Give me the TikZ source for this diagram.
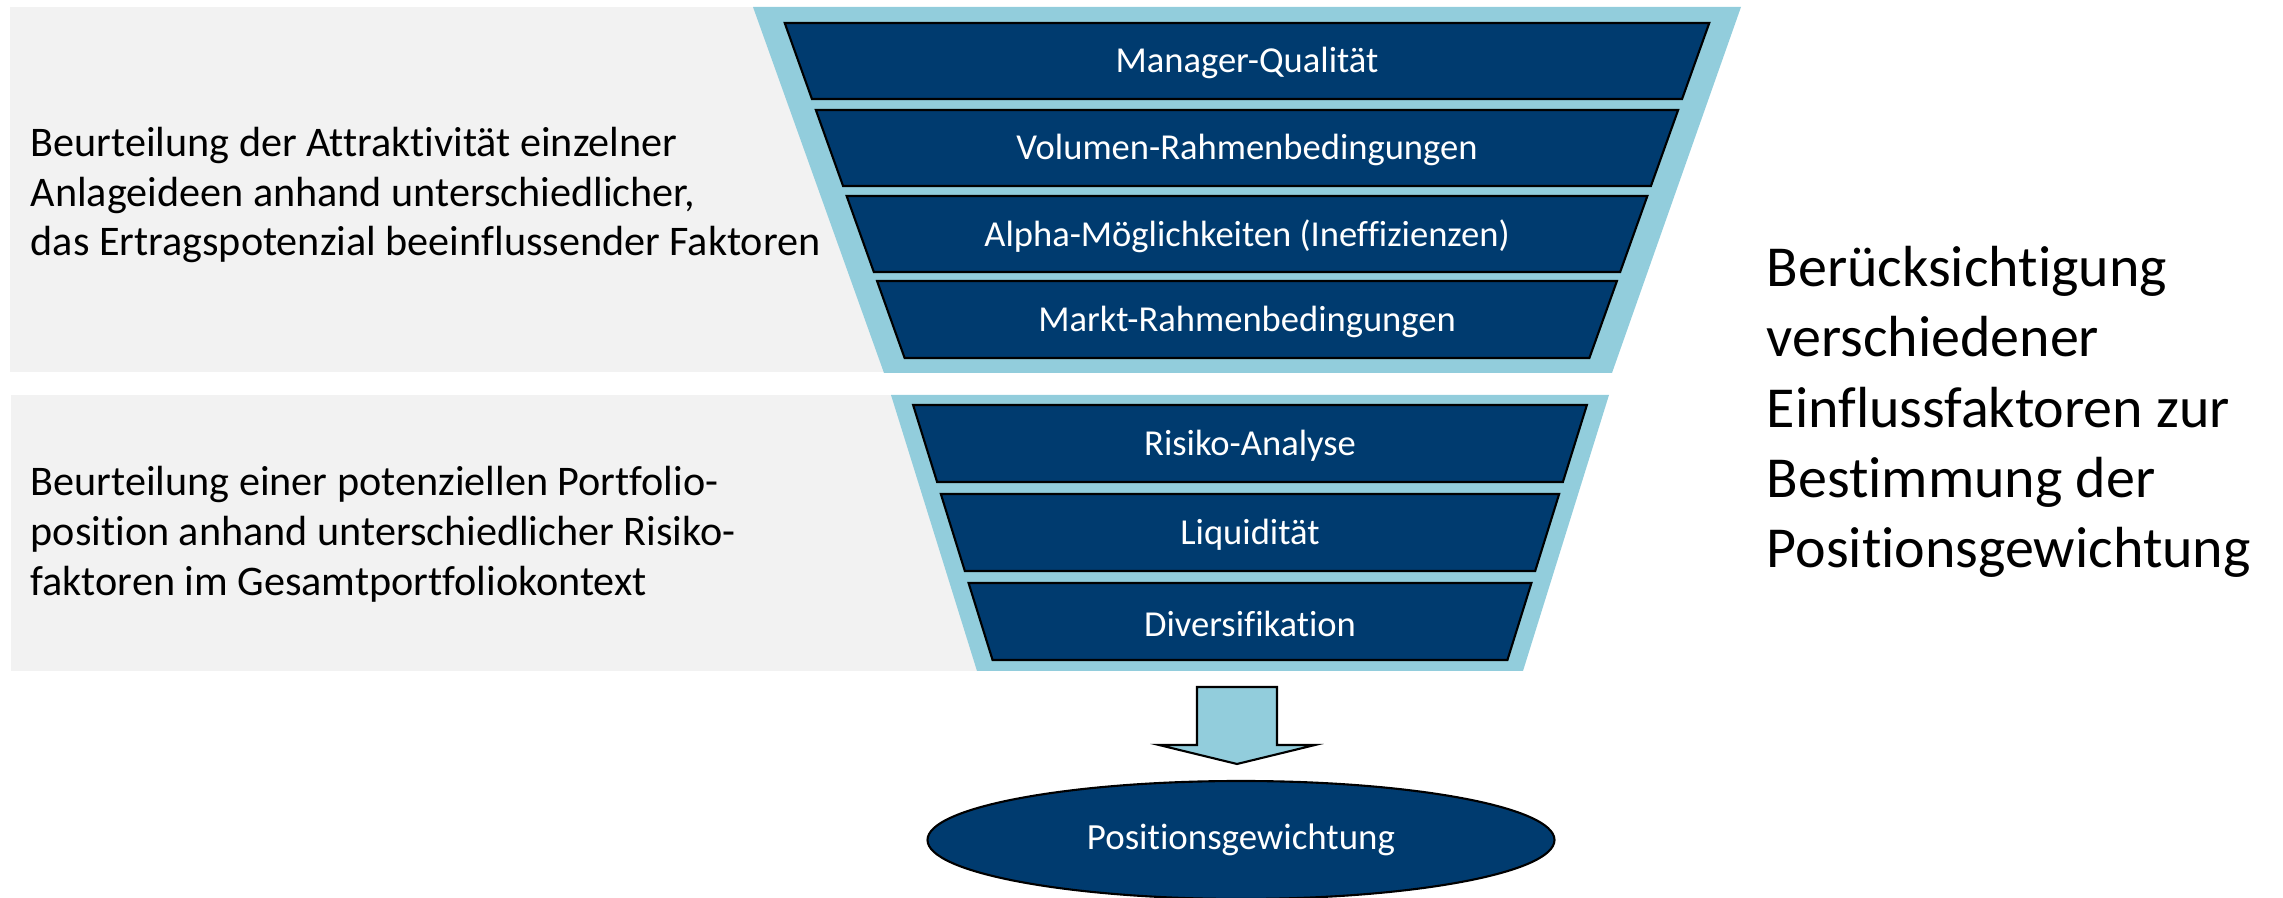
\documentclass[tikz,border=0pt]{standalone}
\usepackage{fontspec}
\setmainfont{Carlito}[Ligatures={TeX,NoCommon}]
\usetikzlibrary{shapes.geometric}

\definecolor{panelgrey}{HTML}{F2F2F2}
\definecolor{funnelblue}{HTML}{92CDDC}
\definecolor{boxnavy}{HTML}{003B6F}

\begin{document}
\begin{tikzpicture}[
    x=0.1mm, y=-0.1mm,
    panel/.style={fill=panelgrey},
    funnel/.style={fill=funnelblue},
    stage/.style={fill=boxnavy, draw=black, line width=0.6pt},
    stagelabel/.style={text=white, inner sep=0pt, font=\fontsize{10.4}{12.5}\selectfont},
    sidetext/.style={align=left, anchor=west, inner sep=0pt, font=\fontsize{12}{14.2}\selectfont},
    bigtext/.style={align=left, anchor=west, inner sep=0pt, font=\fontsize{16.5}{20}\selectfont},
    blockarrow/.style={fill=funnelblue, draw=black, line width=0.6pt, line join=miter},
    goal/.style={ellipse, fill=boxnavy, draw=black, line width=0.6pt, text=white,
        minimum width=62.7mm, minimum height=11.8mm, inner sep=0pt,
        font=\fontsize{10.5}{12.5}\selectfont}
]

    \def\slopeA{0.3579}
    \def\slopeB{0.3116}

    \useasboundingbox (0,0) rectangle (2283,898);

    % grey panels behind the funnels
    \fill[panel] (10,7) rectangle (1150,372);
    \fill[panel] (11,395) rectangle (1150,671);

    % upper funnel
    \coordinate (UA) at (753,7);
    \coordinate (UB) at (1741,7);
    \coordinate (UC) at (1612,373);
    \coordinate (UD) at (884,373);
    \fill[funnel] (UA) -- (UB) -- (UC) -- (UD) -- cycle;

    \foreach \ya/\yb/\name/\txt in {23/99/mq/Manager-Qualität,
        110/186/vr/Volumen-Rahmenbedingungen,
        196/272/am/Alpha-Möglichkeiten (Ineffizienzen),
        281/358/mr/Markt-Rahmenbedingungen} {
        \path[stage] ({779+\slopeA*(\ya-7)},\ya) -- ({1715-\slopeA*(\ya-7)},\ya)
            -- ({1715-\slopeA*(\yb-7)},\yb) -- ({779+\slopeA*(\yb-7)},\yb) -- cycle;
        \node[stagelabel] (\name) at (1247,{(\ya+\yb)/2+2}) {\txt};
    }

    % lower funnel
    \coordinate (LA) at (891,395);
    \coordinate (LB) at (1609,395);
    \coordinate (LC) at (1523,671);
    \coordinate (LD) at (977,671);
    \fill[funnel] (LA) -- (LB) -- (LC) -- (LD) -- cycle;

    \foreach \ya/\yb/\name/\txt in {405/482/ra/Risiko-Analyse,
        494/571/lq/Liquidität,
        583/660/dv/Diversifikation} {
        \path[stage] ({910+\slopeB*(\ya-395)},\ya) -- ({1590-\slopeB*(\ya-395)},\ya)
            -- ({1590-\slopeB*(\yb-395)},\yb) -- ({910+\slopeB*(\yb-395)},\yb) -- cycle;
        \node[stagelabel] (\name) at (1250,{(\ya+\yb)/2+2}) {\txt};
    }

    % side texts
    \node[sidetext] (attr) at (30,195) {Beurteilung der Attraktivität einzelner\\
        Anlageideen anhand unterschiedlicher,\\
        das Ertragspotenzial beeinflussender Faktoren};
    \node[sidetext] (risk) at (30,534) {Beurteilung einer potenziellen Portfolio-\\
        position anhand unterschiedlicher Risiko-\\
        faktoren im Gesamtportfoliokontext};
    \node[bigtext] (summary) at (1766,412) {Berücksichtigung\\verschiedener\\
        Einflussfaktoren zur\\Bestimmung der\\Positionsgewichtung};

    % result
    \path[blockarrow] (1197,687) -- (1277,687) -- (1277,745) -- (1315,745)
        -- (1237,764) -- (1159,745) -- (1197,745) -- cycle;
    \node[goal] (weight) at (1241,840) {Positionsgewichtung};

\end{tikzpicture}
\end{document}
